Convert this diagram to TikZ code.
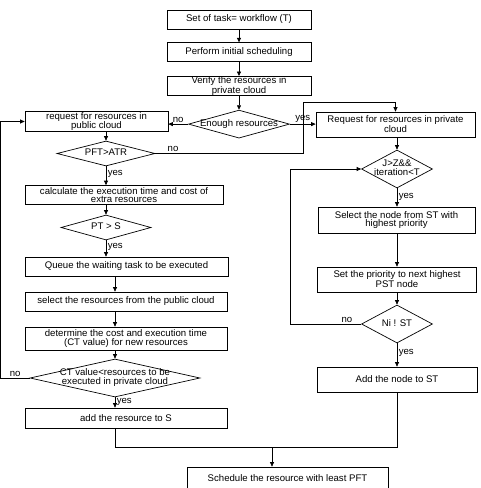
\documentclass[tikz,border=0pt]{standalone}
\usepackage{fontspec}
\setmainfont{Liberation Sans}
\usetikzlibrary{positioning,shapes.geometric,arrows.meta}

\newcommand{\flowfont}{\fontsize{9.6}{8.7}\selectfont}
% text of a decision, allowed to run over the diamond's sides
\newcommand{\dtext}[1]{\makebox[0pt]{\begin{tabular}{@{}c@{}}#1\end{tabular}}}

\tikzset{
  box/.style={draw, rectangle, inner sep=0pt, align=center, font=\flowfont},
  dec/.style={draw, diamond, inner sep=0pt, font=\flowfont},
  lbl/.style={font=\flowfont, inner sep=1.5pt},
}

\begin{document}
\begin{tikzpicture}[x=1pt, y=-1pt, line width=0.7pt, >={Triangle[length=4.5pt,width=4pt]}]
        \useasboundingbox (0,0) rectangle (481,488);
        % main line
        \node[box, minimum width=144pt, minimum height=19pt] at (239,19.5) (tasks) {Set of task= workflow (T)};
        \node[box, minimum width=144pt, minimum height=19pt, below=13pt of tasks] (initial) {Perform initial scheduling};
        \node[box, minimum width=144pt, minimum height=19pt, below=14pt of initial] (verify) {Verify the resources in\\private cloud};
        \node[dec, minimum width=101pt, minimum height=28pt, below=14pt of verify] (enough) {\dtext{Enough resources}};
        % public cloud branch
        \node[box, minimum width=143pt, minimum height=20pt] at (96.5,121.5) (public) {request for resources in\\public cloud};
        \node[dec, minimum width=98pt, minimum height=25pt] at (106,153.5) (pftatr) {\dtext{PFT>ATR}};
        \node[box, minimum width=198pt, minimum height=19pt] at (124,195) (calc) {calculate the execution time and cost of\\extra resources};
        \node[dec, minimum width=90pt, minimum height=25pt] at (106,227.5) (pts) {\dtext{PT > S}};
        \node[box, minimum width=203pt, minimum height=19pt] at (126.5,266.5) (queue) {Queue the waiting task to be executed};
        \node[box, minimum width=202pt, minimum height=19pt] at (126,301.5) (select) {select the resources from the public cloud};
        \node[box, minimum width=202pt, minimum height=23pt] at (126,338.5) (determine) {determine the cost and execution time\\(CT value) for new resources};
        \node[dec, minimum width=170pt, minimum height=38pt] at (115,378) (ctvalue) {\dtext{CT value<resources to be\\executed in private cloud}};
        \node[box, minimum width=202pt, minimum height=20pt] at (126,418) (adds) {add the resource to S};
        % private cloud branch
        \node[box, minimum width=159pt, minimum height=25pt] at (395.5,124.5) (private) {Request for resources in private\\cloud};
        \node[dec, minimum width=71pt, minimum height=38pt] at (397,169) (jz) {\dtext{J>Z\&\&\\iteration<T}};
        \node[box, minimum width=157pt, minimum height=26pt] at (396.5,220) (highest) {Select the node from ST with\\highest priority};
        \node[box, minimum width=159pt, minimum height=25pt] at (397,279.5) (nextprio) {Set the priority to next highest\\PST node};
        \node[dec, minimum width=71pt, minimum height=38pt] at (397,324) (nist) {\dtext{Ni ! ST}};
        \node[box, minimum width=160pt, minimum height=25pt] at (397,379.5) (addst) {Add the node to ST};
        \node[box, minimum width=201pt, minimum height=23pt] at (287.5,478.5) (schedule) {Schedule the resource with least PFT};
        \coordinate (bend) at (303,102);
        \coordinate (merge) at (272,447);

        \draw[->] (tasks) -- (initial);
        \draw[->] (initial) -- (verify);
        \draw[->] (verify) -- (enough);
        \draw[->] (enough.west) -- node[lbl, above] {no} (enough.west -| public.east);
        \draw[->] (enough.east) -- node[lbl, above] {yes} (enough.east -| private.west);
        \draw[->] (public.south -| pftatr.north) -- (pftatr.north);
        \draw[->] (pftatr.east) -| node[lbl, above, pos=0.06] {no} (bend) -| (private.north);
        \draw[->] (pftatr.south) -- node[lbl, right, pos=0.4] {yes} (pftatr.south |- calc.north);
        \draw[->] (calc.south -| pts.north) -- (pts.north);
        \draw[->] (pts.south) -- node[lbl, right, pos=0.4] {yes} (pts.south |- queue.north);
        \draw[->] (queue.south -| ctvalue.north) -- (select.north -| ctvalue.north);
        \draw[->] (select.south -| ctvalue.north) -- (determine.north -| ctvalue.north);
        \draw[->] (determine.south -| ctvalue.north) -- (ctvalue.north);
        \draw[->] (ctvalue.west) -- node[lbl, above] {no} ++(-29,0) |- (public.west);
        \draw[->] (ctvalue.south) -- node[lbl, right, pos=0.4] {yes} (ctvalue.south |- adds.north);
        \draw (adds.south -| ctvalue.south) |- (merge);
        \draw[->] (private.south -| jz.north) -- (jz.north);
        \draw[->] (jz.south) -- node[lbl, right, pos=0.45] {yes} (jz.south |- highest.north);
        \draw[->] (highest.south -| jz.south) -- (nextprio.north -| jz.south);
        \draw[->] (nextprio.south -| nist.north) -- (nist.north);
        \draw[->] (nist.west) -- node[lbl, above, pos=0.2] {no} ++(-71,0) |- (jz.west);
        \draw[->] (nist.south) -- node[lbl, right, pos=0.4] {yes} (nist.south |- addst.north);
        \draw (addst.south -| nist.south) |- (merge);
        \draw[->] (merge) -- (merge |- schedule.north);
    \end{tikzpicture}
\end{document}
